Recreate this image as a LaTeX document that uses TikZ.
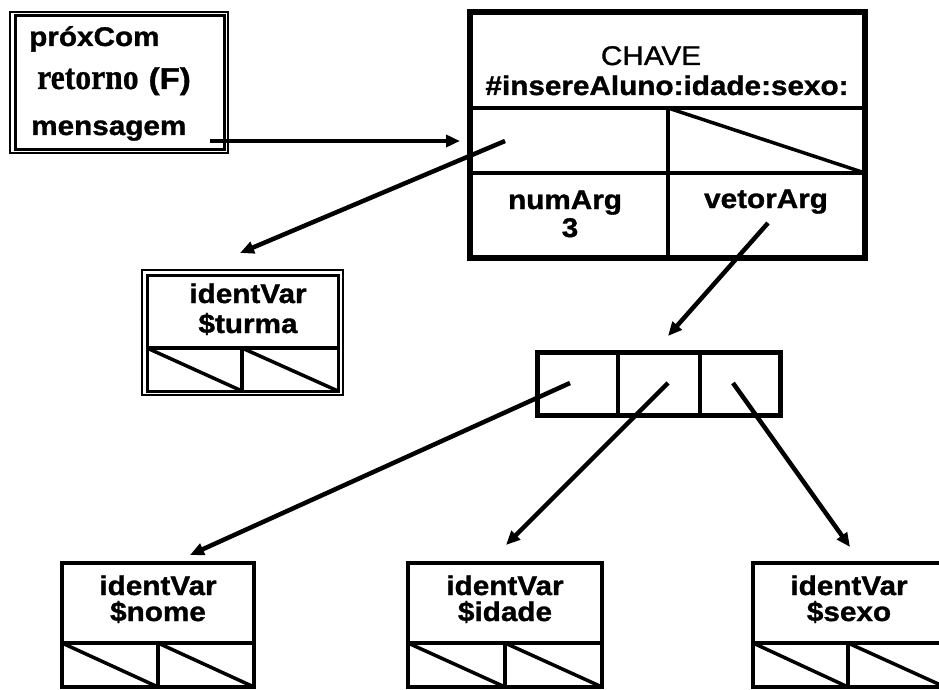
\documentclass[tikz,border=0pt]{standalone}
\usepackage{fontspec}
\setmainfont{Liberation Serif}
\newfontfamily\hv[FakeStretch=1.1,FakeBold=1.2]{Liberation Sans}
\newfontfamily\tm[FakeStretch=0.88,FakeBold=0.5]{Liberation Serif}
\usetikzlibrary{arrows.meta}
\begin{document}
\begin{tikzpicture}[x=1pt,y=-1pt,
  lbl/.style={font={\fontsize{27}{29}\selectfont\hv\bfseries}, inner sep=0pt, anchor=base},
  lblw/.style={lbl, anchor=base west},
  frame/.style={line width=4pt},
  thin frame/.style={line width=1.5pt},
  cell/.style={line width=3.5pt},
  ptr/.style={line width=4.5pt, -{Triangle[length=14pt,width=12pt]}}
]
\clip (0,0) rectangle (939,690);
\fill[white] (0,0) rectangle (939,690);

% --- activation record (top left)
\draw[thin frame] (10,12) rectangle (228,153);
\draw[line width=3pt] (15,16) rectangle (224,149);
\node[lblw] (prox) at (29,46) {próxCom};
\node[lblw] (ret) at (37,89) {{\fontsize{36}{38}\selectfont\tm retorno}\hspace{10pt}{\fontsize{30}{32}\selectfont(F)}};
\node[lblw] (msg) at (31,135) {mensagem};

% --- message object
\draw[line width=6pt] (470,12) rectangle (865,258);
\draw[frame] (470,108) -- (865,108);
\draw[frame] (470,173) -- (865,173);
\draw[frame] (668,108) -- (668,258);
\draw[cell] (668,108) -- (865,173);
\node[lbl, font={\fontsize{27}{29}\selectfont\hv}] (chave) at (651,65) {CHAVE};
\node[lbl] (sel) at (667,95) {\#insereAluno:idade:sexo:};
\node[lbl] (num) at (565,209) {numArg};
\node[lbl] (three) at (570,237) {3};
\node[lbl] (vet) at (766,208) {vetorArg};

% --- variable $turma
\draw[thin frame] (142,270) rectangle (343,395);
\draw[line width=3pt] (147,275) rectangle (338,391);
\draw[cell] (147,348) -- (338,348);
\draw[cell] (242,348) -- (242,391);
\draw[cell] (147,348) -- (242,391);
\draw[cell] (242,348) -- (338,391);
\node[lbl] (iv0) at (248,303) {identVar};
\node[lbl] (turma) at (248,333) {\$turma};

% --- argument vector
\draw[line width=5pt] (537,352) rectangle (780,415);
\draw[frame] (618,352) -- (618,415);
\draw[frame] (700,352) -- (700,415);

% --- argument variables
\foreach \l/\m/\r/\name/\txt in {62/158/254/nome/\$nome, 408/505/602/idade/\$idade, 753/848/945/sexo/\$sexo}{
  \draw[frame] (\l,563) rectangle (\r,687);
  \draw[cell] (\l,643) -- (\r,643);
  \draw[cell] (\m,643) -- (\m,687);
  \draw[cell] (\l,643) -- (\m,687);
  \draw[cell] (\m,643) -- (\r,687);
  \node[lbl] (iv-\name) at ({(\l+\r)/2},595) {identVar};
  \node[lbl] (var-\name) at ({(\l+\r)/2},621) {\txt};
}

% --- pointer ends
\coordinate (msgOut) at (210,141);
\coordinate (chaveIn) at (460,141);
\coordinate (recvOut) at (505,141);
\coordinate (turmaIn) at (240,253);
\coordinate (vetOut) at (768,223);
\coordinate (vecIn) at (668,336);
\coordinate (c1) at (570,383);
\coordinate (c2) at (668,383);
\coordinate (c3) at (733,383);
\coordinate (nomeIn) at (190,555);
\coordinate (idadeIn) at (506,545);
\coordinate (sexoIn) at (850,547);

\draw[ptr] (msgOut) -- (chaveIn);
\draw[ptr] (recvOut) -- (turmaIn);
\draw[ptr] (vetOut) -- (vecIn);
\draw[ptr] (c1) -- (nomeIn);
\draw[ptr] (c2) -- (idadeIn);
\draw[ptr] (c3) -- (sexoIn);
\end{tikzpicture}
\end{document}
